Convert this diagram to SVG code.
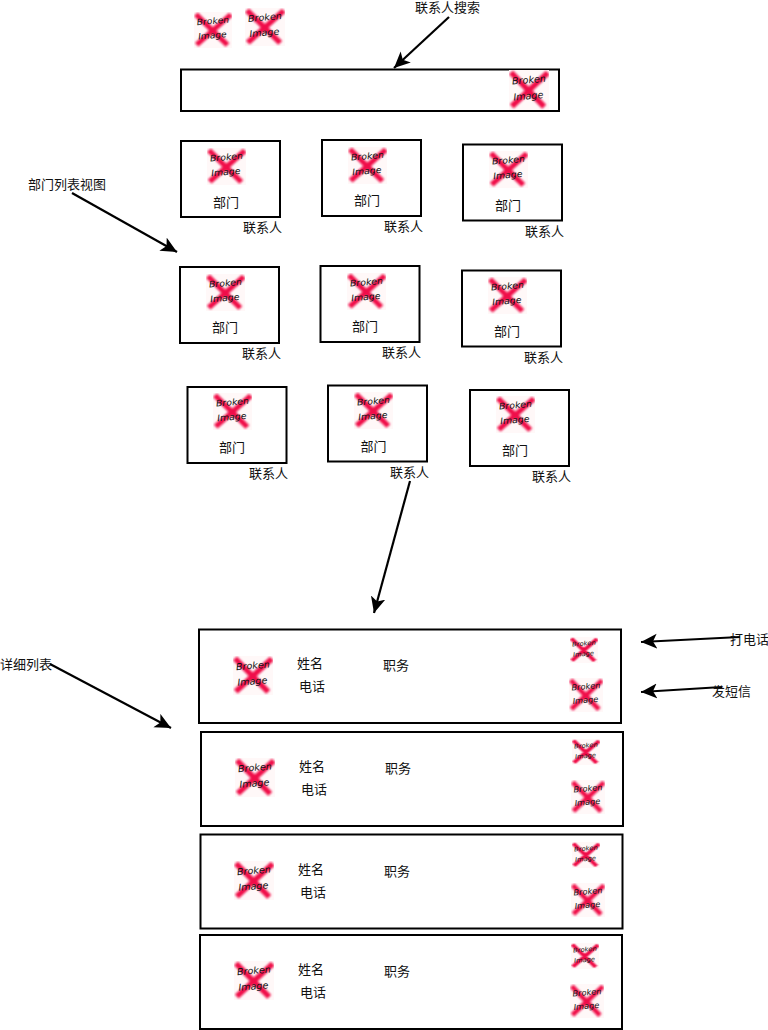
<svg xmlns="http://www.w3.org/2000/svg" width="768" height="1030" viewBox="0 0 768 1030">
<style>
.box{fill:#fff;stroke:#000;stroke-width:2}
.t{font-family:"Noto Sans CJK SC","Liberation Sans",sans-serif;font-size:13px;fill:#111;dominant-baseline:central}
.c{stroke:#000;stroke-width:2.200;fill:none;marker-end:url(#a)}
.bi{font-family:"DejaVu Sans","Liberation Sans",sans-serif;font-style:italic;font-size:24px;fill:#111;text-anchor:middle}
</style>
<defs>
<marker id="a" markerUnits="userSpaceOnUse" markerWidth="20" markerHeight="16" refX="16" refY="7.500" orient="auto"><path d="M0,0 L16,7.500 L0,15 L4,7.500Z" fill="#000"/></marker>
<filter id="b" filterUnits="userSpaceOnUse" x="-10" y="-10" width="120" height="120"><feGaussianBlur stdDeviation="3"/></filter>
<symbol id="bi" viewBox="0 0 100 100" preserveAspectRatio="none">
<rect width="100" height="100" fill="#fff8f8"/>
<path d="M5,6 L88,92 M97,7 L7,91" stroke="#f01048" stroke-width="14" fill="none" filter="url(#b)"/>
<g transform="rotate(-5 50 50)"><text class="bi" x="52" y="33">Broken</text><text class="bi" x="47" y="73">Image</text></g>
</symbol>
</defs>
<g id="connectors">
<line class="c" x1="449" y1="17" x2="394" y2="68"/>
<line class="c" x1="72" y1="193" x2="177" y2="252"/>
<line class="c" x1="410" y1="481" x2="374" y2="613"/>
<line class="c" x1="50" y1="664" x2="171" y2="728"/>
<line class="c" x1="740" y1="637" x2="641" y2="642"/>
<line class="c" x1="722" y1="687" x2="641" y2="692"/>
</g>
<g id="top-icons"><use href="#bi" x="194" y="12" width="38" height="36"/><use href="#bi" x="245" y="8" width="40" height="38"/></g>
<g id="search"><rect class="box" x="181" y="69.500" width="378" height="41.500"/><use href="#bi" x="509" y="70" width="40" height="40"/></g>
<text class="t" x="415" y="6">联系人搜索</text>
<text class="t" x="28" y="183">部门列表视图</text>
<text class="t" x="0" y="663">详细列表</text>
<text class="t" x="730" y="638">打电话</text>
<text class="t" x="712" y="690">发短信</text>
<g id="d1"><rect class="box" x="181" y="141" width="99" height="76"/><use href="#bi" x="207" y="148" width="39" height="37"/><text class="t" x="213" y="201">部门</text><text class="t" x="243" y="226">联系人</text></g>
<g id="d2"><rect class="box" x="322" y="140" width="99" height="76"/><use href="#bi" x="348" y="147" width="39" height="37"/><text class="t" x="354" y="199">部门</text><text class="t" x="384" y="225">联系人</text></g>
<g id="d3"><rect class="box" x="463" y="144.500" width="99" height="76"/><use href="#bi" x="489" y="151" width="39" height="37"/><text class="t" x="495" y="204">部门</text><text class="t" x="525" y="230">联系人</text></g>
<g id="d4"><rect class="box" x="180" y="267" width="99" height="76"/><use href="#bi" x="206" y="274" width="39" height="37"/><text class="t" x="212" y="326">部门</text><text class="t" x="242" y="352">联系人</text></g>
<g id="d5"><rect class="box" x="320.500" y="266" width="99" height="76"/><use href="#bi" x="347" y="273" width="39" height="37"/><text class="t" x="352" y="325">部门</text><text class="t" x="382" y="351">联系人</text></g>
<g id="d6"><rect class="box" x="462" y="270.500" width="99" height="76"/><use href="#bi" x="488" y="277" width="39" height="37"/><text class="t" x="494" y="330">部门</text><text class="t" x="524" y="356">联系人</text></g>
<g id="d7"><rect class="box" x="187.500" y="387" width="99" height="76"/><use href="#bi" x="213" y="393" width="39" height="37"/><text class="t" x="219" y="446">部门</text><text class="t" x="249" y="472">联系人</text></g>
<g id="d8"><rect class="box" x="328" y="385.500" width="99" height="76"/><use href="#bi" x="354" y="392" width="39" height="37"/><text class="t" x="360.500" y="445">部门</text><text class="t" x="390" y="471">联系人</text></g>
<g id="d9"><rect class="box" x="470" y="390" width="99" height="76"/><use href="#bi" x="496" y="396" width="39" height="37"/><text class="t" x="502" y="449">部门</text><text class="t" x="532" y="475">联系人</text></g>
<g id="r1"><rect class="box" x="199" y="629.500" width="422" height="93.500"/><use href="#bi" x="233" y="656" width="40" height="39"/><text class="t" x="297" y="662">姓名</text><text class="t" x="299" y="685">电话</text><text class="t" x="383" y="664">职务</text><use href="#bi" x="570" y="637" width="28" height="26"/><use href="#bi" x="569" y="678" width="34" height="34"/></g>
<g id="r2"><rect class="box" x="201" y="732" width="422" height="94"/><use href="#bi" x="235" y="758" width="40" height="39"/><text class="t" x="299" y="765">姓名</text><text class="t" x="301" y="788">电话</text><text class="t" x="385" y="767">职务</text><use href="#bi" x="572" y="739" width="28" height="26"/><use href="#bi" x="571" y="780" width="34" height="34"/></g>
<g id="r3"><rect class="box" x="200.500" y="834.500" width="422" height="94"/><use href="#bi" x="234" y="861" width="40" height="39"/><text class="t" x="298" y="868">姓名</text><text class="t" x="300" y="891">电话</text><text class="t" x="384" y="870">职务</text><use href="#bi" x="572" y="842" width="28" height="26"/><use href="#bi" x="571" y="883" width="34" height="34"/></g>
<g id="r4"><rect class="box" x="200" y="935" width="422" height="94"/><use href="#bi" x="234" y="961" width="40" height="39"/><text class="t" x="298" y="968">姓名</text><text class="t" x="300" y="991">电话</text><text class="t" x="384" y="970">职务</text><use href="#bi" x="571" y="943" width="28" height="26"/><use href="#bi" x="570" y="984" width="34" height="34"/></g>
</svg>
